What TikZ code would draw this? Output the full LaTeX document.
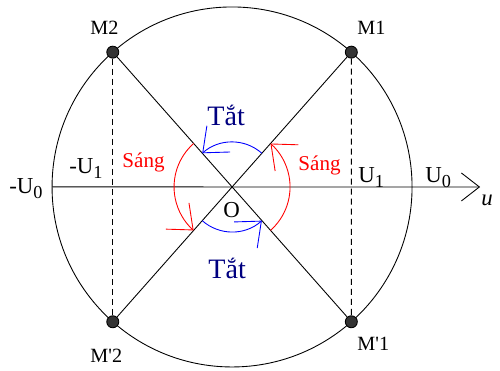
\documentclass[tikz,border=0pt]{standalone}
\usepackage{fontspec}
\setmainfont{Liberation Serif}
\usepackage{tikz}
\usetikzlibrary{arrows.meta,calc}
\definecolor{Navy}{HTML}{000080}
\definecolor{DGray}{HTML}{333333}
\newcommand{\idx}[1]{\raisebox{-0.55ex}{\scalebox{0.8}{#1}}}

\begin{document}
\begin{tikzpicture}[scale=0.02, line width=0.5pt,
    dot/.style={circle,draw=black,fill=DGray,inner sep=0pt,minimum size=0.24cm},
    lbl/.style={inner sep=0pt,anchor=base west,font=\fontsize{13}{15}\selectfont},
    mlbl/.style={lbl,font=\fontsize{11.5}{13}\selectfont},
    tat/.style={lbl,text=Navy,font=\fontsize{16}{18}\selectfont},
    sang/.style={lbl,text=red,font=\fontsize{12}{14}\selectfont},
    barb/.style={-{Straight Barb[length=4.2mm,width=7mm]}}]
  \useasboundingbox (0,0) rectangle (500,370);
  \coordinate (O) at (232,183);
  \draw (O) circle[radius=180];
  % points on the circle
  \node[dot] (M1) at ($(O)+(48.5:180)$) {};
  \node[dot] (M2) at ($(O)+(131.5:180)$) {};
  \node[dot] (Mp2) at ($(O)+(228.5:180)$) {};
  \node[dot] (Mp1) at ($(O)+(311.5:180)$) {};
  % axis
  \coordinate (W) at ($(O)+(-180,0)$);
  \coordinate (E) at (480,183);
  \draw[-{Straight Barb[length=3.6mm,width=5.6mm]}] (W) -- (E);
  \draw (M2) -- (Mp1);
  \draw (M1) -- (Mp2);
  \draw[dashed,dash pattern=on 3.4pt off 2.3pt] (M2) -- (Mp2);
  \draw[dashed,dash pattern=on 3.4pt off 2.3pt] (M1) -- (Mp1);
  % arcs
  \draw[red,barb] ($(O)+(-48.5:58)$) arc[start angle=-48.5,end angle=48.5,radius=58];
  \draw[red,barb] ($(O)+(131.5:58)$) arc[start angle=131.5,end angle=228.5,radius=58];
  \draw[blue,barb] ($(O)+(48.5:45)$) arc[start angle=48.5,end angle=131.5,radius=45];
  \draw[blue,barb] ($(O)+(228.5:45)$) arc[start angle=228.5,end angle=311.5,radius=45];
  % labels
  \node[mlbl] (lM2) at (90,335) {M2};
  \node[mlbl] (lM1) at (357,335) {M1};
  \node[mlbl] (lMp2) at (90,8) {M\textquotesingle2};
  \node[mlbl] (lMp1) at (357,20) {M\textquotesingle1};
  \node[lbl,anchor=base east] (lU0l) at (43,177) {-U\idx{0}};
  \node[lbl,anchor=base east] (lU1l) at (103,197) {-U\idx{1}};
  \node[lbl] (lU1r) at (358,188) {U\idx{1}};
  \node[lbl] (lU0r) at (425,188) {U\idx{0}};
  \node[lbl,font=\fontsize{13}{15}\selectfont\itshape] (lu) at (481,165) {u};
  \node[lbl] (lO) at (223,153) {O};
  \node[sang] (sL) at (122,203) {Sáng};
  \node[sang] (sR) at (298,200) {Sáng};
  \node[tat] (tU) at (207,245) {Tắt};
  \node[tat] (tD) at (208,92) {Tắt};
\end{tikzpicture}
\end{document}
